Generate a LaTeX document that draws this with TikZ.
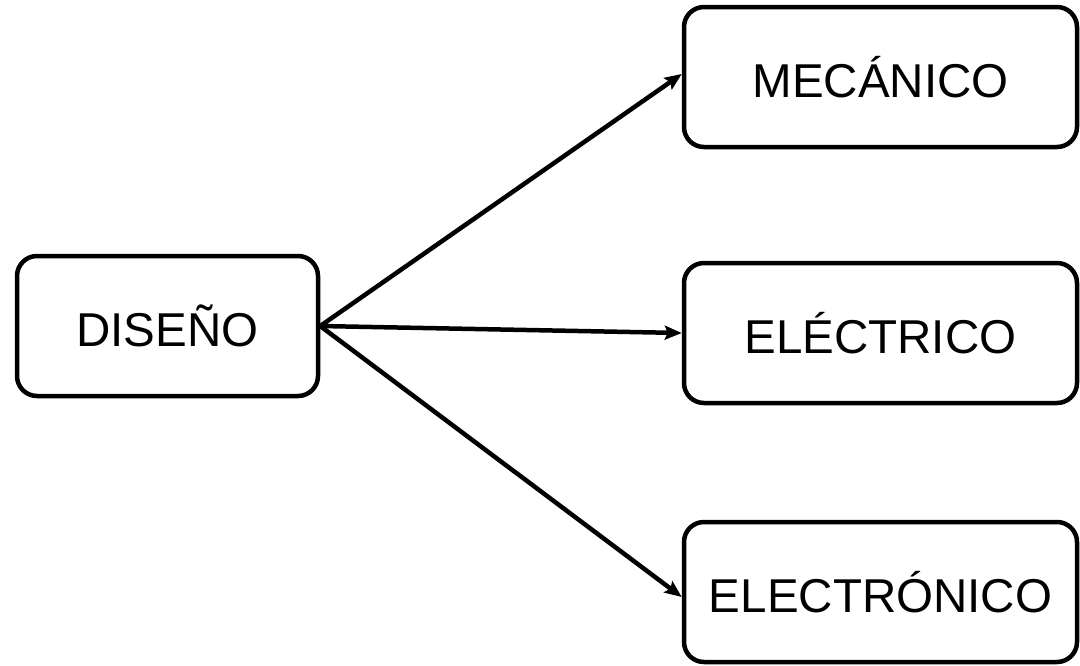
\documentclass[tikz,border=0pt]{standalone}
\usepackage{fontspec}
\setmainfont{Liberation Sans}
\usetikzlibrary{arrows.meta}
\begin{document}
\begin{tikzpicture}[x=1pt,y=-1pt,
  box/.style={draw=black, line width=4.5pt, rounded corners=20pt, fill=white,
    minimum width=#1, minimum height=140pt, inner sep=0pt,
    font=\fontsize{47.5}{47.5}\selectfont},
  box/.default=301pt,
  link/.style={line width=4.5pt, -{Stealth[length=17pt,width=14pt,inset=3pt]}}]
  \useasboundingbox (0,0) rectangle (1080,665);
  % source and targets
  \node[box=301pt] (dis) at (167.5,326) {DISEÑO};
  \node[box=393pt] (mec) at (880.5,77) {MECÁNICO};
  \node[box=393pt] (elc) at (880.5,333) {ELÉCTRICO};
  \node[box=393pt] (elt) at (880.5,592) {ELECTRÓNICO};
  % connectors
  \draw[link] (dis.east) -- ([yshift=3pt]mec.west);
  \draw[link] (dis.east) -- (elc.west);
  \draw[link] (dis.east) -- ([yshift=-5pt]elt.west);
\end{tikzpicture}
\end{document}
